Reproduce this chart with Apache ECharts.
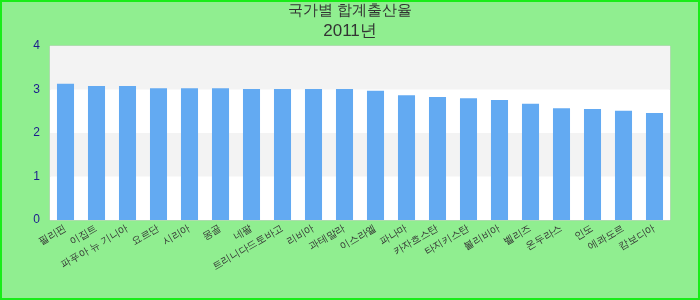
<!DOCTYPE html>
<html>
<head>
<meta charset="utf-8">
<script src="https://cdn.jsdelivr.net/npm/echarts@6/dist/echarts.min.js"></script>
<style>
html,body{margin:0;padding:0;}
#chart{width:700px;height:300px;box-sizing:border-box;border:2px solid #19ec19;background:#90ee90;}
</style>
</head>
<body>
<div id="chart"></div>
<script>
const titleText = "국가별 합계출산율";
const subTitleText = "2011년";
const categories = ["필리핀","이집트","파푸아 뉴 기니아","요르단","시리아","몽골","네팔","트리니다드토바고","리비아","과테말라","이스라엘","파나마","카자흐스탄","타지키스탄","볼리비아","벨리즈","온두라스","인도","에콰도르","캄보디아"];
const values = [3.13,3.08,3.08,3.03,3.03,3.03,3.01,3.01,3.01,3.01,2.97,2.87,2.83,2.80,2.76,2.67,2.57,2.55,2.51,2.46];
const yTicks = [0,1,2,3,4];

const chart = echarts.init(document.getElementById('chart'), null, {renderer:'canvas'});
chart.setOption({
  backgroundColor: '#90ee90',
  animation: false,
  title: {
    text: titleText,
    subtext: subTitleText,
    left: 'center',
    top: 0,
    padding: [1, 5],
    itemGap: 5,
    textStyle: {fontSize: 15, fontWeight: 'normal', color: '#333'},
    subtextStyle: {fontSize: 17, color: '#333'}
  },
  grid: {left: 48, right: 28, top: 44, bottom: 78, show: true, borderColor: '#ccc', borderWidth: 1, backgroundColor: '#fff'},
  xAxis: {
    type: 'category',
    data: categories,
    axisLine: {show: false},
    axisTick: {show: false},
    axisLabel: {interval: 0, rotate: 30, fontSize: 10, color: '#333', margin: 8}
  },
  yAxis: {
    type: 'value',
    min: yTicks[0],
    max: yTicks[yTicks.length-1],
    interval: 1,
    axisLine: {show: false},
    axisTick: {show: false},
    splitLine: {show: false},
    splitArea: {show: true, areaStyle: {color: ['#ffffff', '#f3f3f3']}},
    axisLabel: {color: '#1c1c8c', fontSize: 12, margin: 10}
  },
  series: [{
    type: 'bar',
    data: values,
    barWidth: '55%',
    itemStyle: {color: '#63aaf2'}
  }]
});
</script>
</body>
</html>
